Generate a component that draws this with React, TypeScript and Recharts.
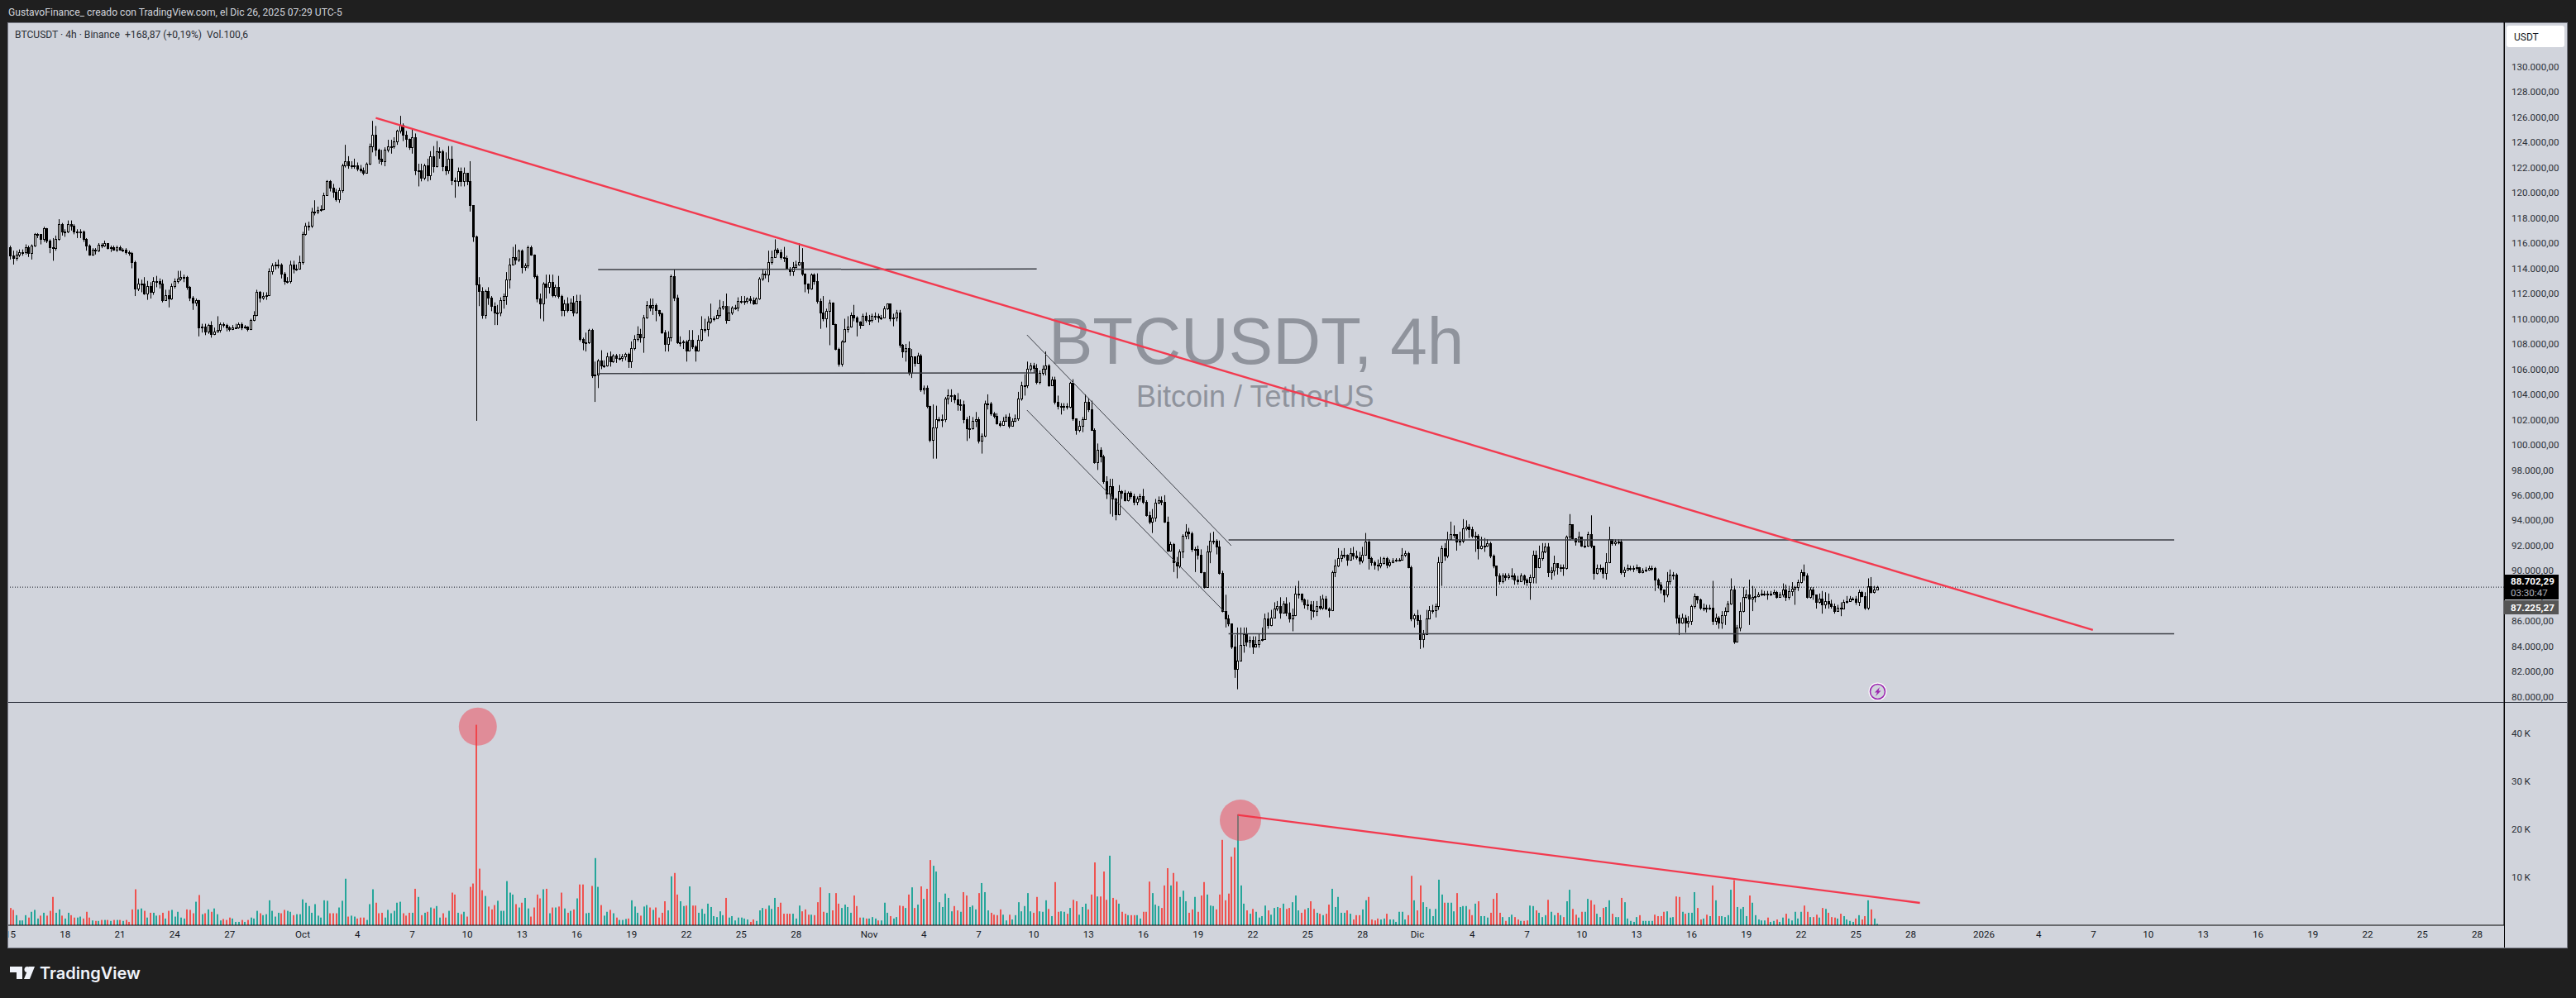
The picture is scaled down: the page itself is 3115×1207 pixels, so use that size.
import { Bar, ComposedChart, ReferenceDot, ReferenceLine, XAxis, YAxis } from 'recharts';

const UI_FONT = 'Roboto, sans-serif';
const WATERMARK_FONT = '"Liberation Sans", Arial, sans-serif';

// 4h candles, in thousands of USDT. each open is the previous close
const firstOpenK = 115.7;
const closesK = [
  115.0,114.8,115.1,115.3,115.3,115.7,115.2,115.8,116.7,116.7,116.3,117.2,116.2,115.7,115.6,116.3,117.5,116.9,116.9,117.5,
  117.4,116.9,116.9,116.9,116.3,115.8,115.1,115.5,115.4,115.9,115.8,116.0,115.6,115.7,115.5,115.7,115.5,115.5,115.3,115.2,
  114.5,112.4,112.8,112.8,112.0,112.6,112.1,113.0,113.0,112.8,111.5,111.9,111.6,112.6,113.0,113.2,113.3,113.3,112.5,111.7,
  111.3,111.5,109.3,109.4,109.0,109.5,108.8,109.0,109.1,109.6,109.5,109.3,109.2,109.3,109.3,109.6,109.3,109.4,109.2,109.9,
  110.3,112.1,111.7,111.8,111.9,113.8,114.2,114.3,114.3,113.6,113.0,113.0,114.3,114.0,114.0,114.5,116.7,117.4,117.4,118.5,
  118.5,118.6,118.7,119.8,120.9,120.4,120.1,119.5,120.2,122.2,122.5,122.2,122.2,122.2,121.9,121.8,121.6,122.3,123.7,124.6,
  123.4,122.7,122.5,123.4,123.7,123.7,124.1,124.9,125.4,124.6,124.3,123.6,124.4,121.8,121.8,121.2,122.2,121.4,122.9,122.1,
  123.3,123.3,122.1,121.8,122.7,121.0,120.9,121.7,120.9,121.6,120.9,119.0,116.5,112.7,112.2,110.3,112.2,111.7,111.0,110.5,
  110.5,111.5,111.8,113.1,114.3,114.9,114.7,115.4,114.1,114.2,115.7,115.1,113.4,111.6,111.2,112.8,112.5,112.9,111.9,112.5,
  111.8,110.7,111.2,110.7,111.3,110.5,111.4,108.4,108.1,108.1,109.1,105.5,105.6,106.7,106.3,106.3,107.0,106.6,107.1,106.9,
  106.9,107.0,107.2,106.6,107.7,108.4,108.8,108.5,110.1,111.1,110.9,111.1,110.7,110.4,108.9,108.0,108.5,113.4,111.7,108.1,
  108.1,108.2,107.5,108.3,107.8,107.5,108.3,109.2,109.2,109.8,110.0,110.0,110.3,110.9,111.0,109.9,110.5,110.9,110.9,111.4,
  111.4,111.4,111.6,111.5,111.2,111.6,113.2,113.6,113.5,114.5,114.9,115.5,115.3,114.9,114.8,114.0,113.8,114.1,114.3,114.5,
  113.6,112.8,112.4,113.5,113.0,111.4,110.5,110.0,110.6,111.3,109.6,107.6,106.4,108.2,109.2,109.4,110.3,110.1,109.8,109.5,
  110.2,109.9,109.9,110.2,110.2,110.1,110.1,110.8,111.2,110.0,110.1,110.5,107.9,107.4,107.7,105.7,107.0,106.5,107.1,104.4,
  104.5,103.1,100.4,101.4,102.0,102.0,102.0,103.7,103.9,103.9,103.6,103.2,103.2,102.0,101.3,101.3,101.9,102.0,100.3,100.7,
  103.3,103.3,102.5,102.3,101.7,101.6,101.9,102.2,101.5,101.9,102.1,103.7,104.7,104.7,106.0,106.3,106.1,105.0,105.7,106.0,
  106.3,104.7,105.2,103.4,103.1,103.1,103.1,103.0,104.9,102.1,101.2,101.5,102.0,103.4,102.8,101.2,98.6,99.6,99.1,97.1,
  96.1,96.7,95.7,94.5,96.3,96.2,95.6,96.2,95.9,95.5,95.7,95.9,95.5,94.4,93.9,94.2,95.4,95.6,95.5,93.9,
  91.6,92.1,90.7,90.4,91.5,92.8,93.1,93.0,91.7,91.7,91.3,89.9,88.7,91.5,92.4,92.4,91.9,89.8,86.8,86.2,
  85.8,84.0,82.2,82.9,84.1,85.0,84.4,84.5,84.0,84.2,84.5,84.6,86.2,85.7,86.3,87.0,87.2,86.7,87.4,86.7,
  86.2,86.5,88.2,88.2,87.7,87.3,87.3,86.9,86.8,87.2,87.1,87.8,87.0,86.9,89.9,90.4,91.0,91.3,91.3,90.9,
  91.4,91.2,91.1,90.8,91.3,92.3,91.0,90.7,90.5,90.4,90.6,91.0,90.5,90.7,90.8,90.9,90.9,91.3,91.4,90.3,
  86.2,86.5,86.1,84.6,85.0,86.2,86.9,86.9,87.2,90.7,91.8,91.2,92.5,92.9,92.9,92.3,92.4,93.4,93.5,93.3,
  92.8,92.8,91.8,92.0,92.0,92.2,91.2,90.4,89.6,89.2,89.6,89.5,89.6,89.6,89.3,89.2,89.6,89.3,89.1,89.5,
  91.3,90.3,91.0,91.5,91.9,89.9,90.0,90.6,90.3,90.3,90.2,92.7,93.7,92.6,92.3,92.7,92.0,92.0,92.9,92.0,
  89.8,90.2,90.2,89.8,90.7,92.5,92.2,92.3,92.3,89.9,90.1,90.2,90.2,90.2,90.3,89.9,90.0,90.1,90.2,90.2,
  89.3,88.9,88.5,88.1,89.2,89.7,89.7,86.3,85.9,86.3,85.9,86.0,87.2,88.0,87.7,87.1,87.1,87.0,87.1,86.0,
  86.3,85.9,86.5,86.8,87.4,88.5,84.4,85.5,86.8,87.9,88.1,87.8,87.9,88.0,88.1,88.2,88.2,88.1,88.2,88.3,
  87.9,88.1,88.5,87.9,88.4,88.6,88.7,89.1,89.9,89.6,87.9,88.5,88.1,87.5,87.8,87.3,87.6,87.4,87.2,86.8,
  87.1,87.0,87.5,87.6,87.8,87.8,87.5,88.3,88.0,87.1,88.8,88.3,88.5,88.7,
];
const highsK = [
  115.8,115.4,115.4,115.5,115.5,115.9,115.8,115.9,116.8,116.8,116.7,117.3,117.2,116.3,116.4,116.6,117.9,117.6,117.1,117.8,
  117.8,117.5,117.1,117.1,117.0,116.4,115.9,115.6,115.6,116.0,116.0,116.2,116.0,115.8,115.8,115.8,115.8,115.6,115.6,115.4,
  115.3,114.6,113.2,113.1,113.3,113.0,112.9,113.3,113.4,113.2,113.1,112.3,112.3,112.8,113.2,113.8,113.8,113.5,113.4,112.6,
  111.8,111.6,111.5,109.6,109.6,109.6,109.8,109.3,110.2,109.7,109.7,109.6,109.4,109.5,109.6,109.7,109.7,109.5,109.4,110.0,
  110.6,112.3,112.2,112.1,112.1,114.0,114.4,114.5,114.7,114.4,113.7,113.3,114.6,114.6,114.3,115.0,116.9,117.6,117.7,118.8,
  119.4,118.9,119.0,120.0,121.0,121.0,120.7,120.3,120.4,122.3,123.8,122.9,122.5,122.7,122.4,122.2,122.0,122.4,123.9,125.7,
  125.3,123.5,123.4,123.6,124.2,124.2,124.4,125.0,126.1,125.5,124.9,124.3,125.1,124.7,122.3,122.3,122.3,122.7,123.3,123.7,
  124.1,123.6,123.4,123.2,123.7,123.7,121.2,122.0,122.0,122.0,121.4,122.5,119.0,116.6,113.3,112.5,112.3,112.5,111.8,111.3,
  111.1,111.7,112.0,113.7,114.8,115.7,115.9,115.5,115.5,114.4,115.8,115.8,115.1,113.5,112.0,112.9,113.5,113.5,113.5,112.7,
  113.4,111.9,111.5,111.7,111.6,111.8,111.9,111.9,108.5,108.9,109.2,109.2,106.6,106.8,107.5,106.7,107.3,107.4,107.2,107.2,
  107.2,107.2,107.3,107.3,108.2,108.7,109.4,109.2,110.3,111.4,111.6,111.6,111.2,110.7,110.5,109.1,109.0,113.5,113.9,111.9,
  108.6,108.3,108.3,109.1,109.1,107.9,108.7,110.2,110.0,110.2,111.2,110.2,110.7,111.5,111.4,112.0,111.0,111.0,111.1,111.7,
  111.8,111.8,111.7,111.8,111.7,111.7,113.3,113.9,113.8,115.4,115.4,116.3,115.6,115.5,115.7,115.0,114.1,114.5,114.6,116.0,
  115.6,113.6,112.8,113.6,113.6,113.6,111.6,111.8,110.8,111.5,111.3,109.6,107.7,108.3,110.0,110.2,110.5,111.1,110.2,109.8,
  110.4,110.5,110.3,110.4,110.5,110.4,110.3,111.0,111.2,111.2,110.4,110.7,110.7,108.0,108.0,108.2,107.6,107.0,107.3,107.2,
  104.7,104.7,103.1,103.2,103.1,102.2,102.4,103.8,104.4,104.4,104.0,104.1,103.6,103.5,102.2,102.3,102.2,102.6,102.2,100.9,
  103.5,104.0,103.4,102.6,102.5,101.9,102.2,102.4,102.5,102.1,102.4,104.2,105.0,105.6,106.6,106.5,106.5,106.4,105.9,106.3,
  107.4,106.4,105.4,105.4,103.9,103.3,103.3,103.3,105.0,105.2,102.1,101.9,102.2,104.0,103.7,103.5,101.3,100.1,99.8,99.2,
  97.5,97.3,97.3,95.8,96.8,96.4,96.4,96.3,96.3,96.1,95.9,96.1,96.5,95.6,94.7,94.9,95.7,95.9,95.9,96.0,
  94.3,92.3,92.2,91.1,91.7,92.9,93.7,93.4,93.1,91.9,92.0,91.7,89.9,92.0,93.0,93.1,92.5,92.4,90.0,88.1,
  86.5,85.6,84.9,85.5,85.5,85.5,85.5,84.8,84.8,84.8,85.0,85.5,86.6,86.7,86.9,87.5,87.6,87.9,87.6,87.9,
  87.5,87.0,88.8,89.2,88.2,87.8,87.7,87.6,87.6,87.6,88.0,88.1,88.0,87.1,90.0,90.9,91.8,91.6,91.8,91.3,
  91.8,91.9,91.6,91.5,91.9,93.0,92.5,91.1,90.8,90.9,91.1,91.1,91.1,90.9,91.0,91.0,91.0,91.8,91.6,91.5,
  90.4,86.6,86.9,86.5,85.3,86.9,87.2,87.3,87.4,91.1,92.0,92.2,93.1,93.9,93.6,92.9,93.1,94.1,94.0,93.7,
  93.5,93.1,92.9,92.7,92.6,92.5,92.3,91.3,90.4,89.8,89.8,89.8,89.8,90.2,89.8,89.6,89.8,89.7,89.4,89.7,
  91.6,91.6,92.0,92.2,92.2,92.2,90.3,91.2,90.6,90.5,90.5,92.8,94.5,92.8,92.4,93.1,92.7,92.4,93.1,94.4,
  92.0,90.5,90.5,90.3,91.4,93.5,92.5,92.5,92.5,92.5,90.3,90.5,90.4,90.4,90.5,90.3,90.2,90.3,90.4,90.4,
  90.3,89.4,89.1,88.5,89.9,90.1,89.9,89.8,86.5,86.6,86.5,86.4,87.3,88.2,88.0,87.8,87.4,87.3,87.3,89.2,
  86.6,86.4,86.8,87.1,87.6,89.4,88.8,85.7,87.5,88.7,88.5,89.3,88.8,88.6,88.3,88.5,88.4,88.4,88.4,88.5,
  88.4,88.3,89.0,88.9,88.8,89.1,88.8,89.3,90.1,90.5,89.8,88.7,88.7,88.1,88.2,88.4,88.3,88.2,87.7,87.4,
  87.3,87.5,87.7,88.0,88.0,87.9,88.0,88.5,88.4,88.3,89.4,89.5,88.8,88.8,
];
const lowsK = [
  114.7,114.3,114.6,114.9,115.0,115.1,114.9,114.7,115.7,116.4,115.9,116.1,116.0,115.2,114.6,115.4,116.2,116.6,116.5,116.8,
  117.0,116.7,116.4,116.4,116.1,115.4,115.0,115.0,115.1,115.3,115.6,115.7,115.5,115.3,115.4,115.3,115.4,115.3,115.1,115.0,
  114.0,111.8,112.2,112.1,111.9,111.5,111.6,111.9,112.5,112.4,111.3,111.5,110.9,111.5,112.4,112.8,113.0,112.9,112.3,111.4,
  110.7,111.0,108.6,108.9,108.7,108.8,108.5,108.7,108.9,108.9,109.3,109.0,109.0,109.1,109.2,109.2,109.1,109.2,109.0,109.1,
  109.8,110.2,111.3,111.5,111.5,111.8,113.5,113.9,114.0,113.2,112.7,112.8,112.8,113.6,113.8,113.9,114.3,116.6,117.0,117.2,
  118.2,118.3,118.5,118.6,119.8,120.1,119.6,119.3,119.2,120.0,122.0,121.9,121.9,121.9,121.7,121.6,121.4,121.7,122.2,123.2,
  122.9,122.3,122.2,122.1,123.2,123.1,123.5,123.8,124.7,124.1,123.6,123.4,123.1,121.4,120.5,120.9,121.0,120.9,121.0,121.6,
  122.0,122.7,121.7,121.4,121.5,120.6,119.6,120.5,120.5,120.5,120.6,118.5,116.1,101.9,111.0,110.0,110.0,111.1,110.6,109.5,
  109.5,110.2,110.8,111.1,112.4,114.3,114.3,114.5,113.6,113.8,114.0,115.0,113.2,111.3,110.0,109.8,111.6,112.0,111.7,111.7,
  111.6,110.2,110.2,110.5,110.8,110.2,110.4,108.2,107.5,107.4,108.0,105.3,103.4,104.5,106.0,106.1,106.2,106.2,106.5,106.5,
  106.7,106.6,106.7,106.1,106.1,107.5,108.2,108.1,107.3,110.0,110.6,110.3,109.8,110.2,108.8,107.4,107.4,108.2,111.4,108.0,
  107.8,107.6,106.6,107.5,107.6,106.6,107.4,108.2,108.9,108.6,109.6,109.8,110.1,110.1,110.7,109.6,109.9,110.3,110.7,110.6,
  111.2,111.1,111.2,111.2,111.1,111.2,111.5,113.0,113.2,112.9,114.3,115.3,115.1,114.7,114.5,113.9,113.4,113.4,114.0,114.2,
  113.4,112.1,112.0,112.3,112.7,111.2,109.2,109.8,109.3,107.9,109.5,107.5,106.2,106.2,108.1,108.9,109.3,109.8,108.6,109.2,
  109.5,109.7,109.5,109.7,109.9,109.7,109.9,110.1,110.7,109.8,109.4,109.8,107.7,106.9,106.6,105.5,105.3,106.2,106.5,104.2,
  104.0,102.9,100.2,98.9,98.9,101.8,101.4,101.8,103.2,103.4,103.3,102.7,102.7,101.7,100.3,100.5,101.2,101.4,100.1,99.3,
  100.6,102.8,102.3,102.1,101.6,101.4,101.5,101.9,101.3,101.5,101.8,101.9,103.5,103.9,104.5,105.8,105.7,104.8,104.8,105.5,
  105.5,104.6,104.9,103.2,102.8,102.4,102.7,102.8,102.9,101.9,100.8,101.0,101.0,102.2,102.6,101.1,98.5,98.0,98.6,96.9,
  95.7,94.5,94.3,94.0,94.4,95.7,95.5,95.5,95.7,95.2,95.2,95.5,95.3,94.3,93.7,93.0,93.9,95.3,95.2,93.8,
  91.5,91.6,89.9,89.4,90.2,91.0,92.5,92.5,91.5,89.9,90.9,89.8,88.6,88.7,90.6,92.1,91.3,89.7,86.7,85.5,
  85.6,83.8,81.5,80.6,82.9,83.5,84.0,83.9,83.4,84.0,83.9,84.4,84.8,85.4,85.6,86.7,86.8,86.2,86.9,86.4,
  85.9,85.2,86.4,87.8,87.5,87.0,86.9,86.1,86.3,86.4,86.9,86.9,86.9,86.3,86.8,89.5,90.3,90.7,91.0,90.4,
  90.8,90.9,90.9,90.5,90.6,91.2,90.1,90.4,90.1,90.0,90.2,90.5,90.2,90.3,90.6,90.7,90.8,90.9,91.1,90.2,
  86.0,85.5,85.7,83.8,83.9,84.9,86.3,86.6,86.3,86.9,88.8,90.8,91.0,92.5,92.6,91.6,92.0,92.2,93.2,92.6,
  92.6,91.5,90.9,91.7,91.5,91.9,91.0,90.2,88.0,88.9,89.0,89.2,89.3,89.3,88.9,88.9,89.3,88.9,88.8,87.7,
  89.0,89.0,90.2,90.8,91.4,89.5,89.3,89.6,89.7,89.9,89.6,90.1,92.4,92.5,92.0,92.3,91.9,91.8,91.9,91.8,
  89.3,89.7,89.9,89.4,89.3,90.6,92.0,92.0,92.1,89.7,89.5,90.0,90.0,89.9,90.0,89.8,89.8,89.9,90.0,90.0,
  88.4,88.6,88.2,87.5,87.9,88.9,89.3,85.8,84.9,85.8,85.1,85.5,85.7,87.0,87.4,86.9,86.8,86.7,86.9,85.7,
  85.7,85.4,85.4,85.7,86.7,87.3,84.2,84.9,85.2,86.7,87.8,85.7,86.8,87.5,87.9,88.0,88.0,87.7,88.0,88.1,
  87.8,87.9,87.9,87.6,87.7,88.0,87.3,88.4,89.0,89.2,87.8,87.8,87.7,87.0,87.4,86.6,87.0,87.0,87.0,86.6,
  86.8,86.4,87.2,87.4,87.6,87.7,87.3,87.2,87.9,86.9,86.9,88.2,88.2,88.5,
];
const volumesK = [
  3.6,3.2,2.1,1.0,1.0,2.1,1.6,2.8,3.2,1.4,2.0,2.6,2.0,3.0,5.9,2.6,3.3,2.0,1.4,2.6,
  2.1,1.6,1.6,1.8,1.4,2.8,1.6,1.0,0.9,0.9,1.1,1.1,1.1,0.9,1.1,1.1,1.1,0.9,1.1,0.7,
  3.3,7.5,3.3,3.5,3.0,1.6,2.6,2.6,2.0,2.1,2.6,1.4,3.0,3.2,1.8,2.8,1.6,1.4,3.3,3.2,
  2.5,4.9,6.3,2.3,2.5,3.3,2.8,3.5,2.3,1.0,1.3,1.1,1.6,1.4,0.7,0.7,1.1,0.7,1.1,1.6,
  1.4,3.0,2.5,2.1,2.3,5.2,3.0,1.8,2.6,2.5,3.2,3.0,2.8,2.1,2.3,2.3,5.4,4.7,4.0,2.6,
  4.4,2.0,1.6,5.2,5.1,2.5,2.5,2.5,3.7,5.1,9.7,1.8,2.0,1.8,1.4,1.6,1.6,1.1,4.4,7.5,
  4.7,2.5,2.6,1.6,3.2,2.5,3.0,4.7,4.9,2.5,2.0,2.6,2.6,7.6,5.9,2.1,2.6,2.8,3.7,3.5,
  4.0,1.6,2.5,1.6,3.0,6.8,6.4,2.6,2.3,2.8,1.8,8.0,8.7,41.8,11.8,7.3,6.1,3.9,3.3,4.2,
  5.1,3.0,3.0,9.2,6.8,6.4,4.4,3.7,4.7,5.7,3.5,1.8,3.7,6.4,5.6,7.5,7.6,2.5,3.7,3.7,
  3.9,6.8,3.5,2.6,3.0,3.3,5.6,8.5,8.5,2.5,2.6,8.2,14.0,8.0,4.2,2.0,2.8,3.2,2.5,1.6,
  1.1,1.1,1.3,1.4,5.2,3.9,2.6,2.0,3.9,4.2,3.7,3.2,3.7,1.6,2.6,5.0,3.1,10.2,10.9,6.4,
  5.0,4.0,4.1,8.1,4.1,4.1,2.6,3.4,2.4,4.5,3.8,1.9,1.7,2.9,2.1,5.7,1.6,1.9,1.0,1.6,
  1.6,1.4,1.2,0.7,1.2,0.9,3.1,3.6,3.4,4.1,3.4,5.7,
  3.8,4.7,2.4,2.4,2.4,2.4,1.4,4.1,2.9,3.3,2.2,2.2,2.1,4.8,7.9,2.8,2.6,6.7,3.1,6.7,
  4.5,3.6,4.3,3.8,2.6,6.2,4.0,1.6,1.6,1.4,1.4,1.7,1.4,1.0,1.0,4.7,2.6,1.9,1.4,1.7,
  4.1,4.0,3.6,6.4,7.9,3.6,4.3,8.1,5.5,7.6,13.6,12.4,11.2,4.8,3.8,6.6,5.7,2.9,4.0,3.1,
  2.8,6.9,6.2,3.8,4.1,3.3,6.7,8.8,6.9,3.1,2.6,2.2,2.1,3.3,2.2,1.0,2.2,1.2,2.1,4.8,
  2.9,4.0,6.7,2.9,2.6,5.9,2.9,2.8,5.2,3.4,1.9,9.0,2.8,2.9,2.8,2.4,3.6,5.3,5.0,2.2,
  3.8,4.5,3.3,6.4,13.1,6.0,6.0,11.2,5.3,14.5,5.7,5.3,4.5,2.8,2.4,2.1,2.1,2.1,2.1,1.4,
  2.8,2.8,9.1,6.7,4.3,4.0,3.6,8.3,11.9,8.3,10.9,9.1,5.9,7.2,5.0,2.6,3.3,5.9,2.8,6.2,
  9.0,6.4,4.1,4.0,3.3,6.4,17.8,5.2,6.6,14.3,16.2,23.1,8.3,4.5,3.1,2.4,3.4,2.8,1.6,1.9,
  4.1,3.1,2.2,3.6,3.8,3.6,4.5,3.4,3.6,4.8,6.2,
  3.1,2.6,3.3,3.6,5.0,3.4,2.6,2.4,2.1,2.4,4.3,7.6,3.8,5.9,2.6,2.6,3.1,2.4,1.2,2.1,
  2.1,3.3,5.2,5.9,1.2,1.0,1.4,1.2,1.4,2.4,1.2,1.2,0.7,2.8,2.8,1.2,2.1,10.3,5.2,3.1,
  8.3,4.8,3.8,3.4,1.9,3.4,9.5,6.4,4.7,4.7,4.7,2.9,6.7,3.8,4.0,4.0,3.3,2.1,4.5,5.0,
  1.9,1.9,1.6,2.6,5.5,6.7,2.6,1.7,0.9,1.7,2.2,1.7,1.2,0.9,0.9,1.0,4.1,4.0,3.1,2.6,
  1.7,2.1,5.3,2.8,2.1,2.6,2.1,1.7,5.0,7.4,3.4,2.2,1.6,2.8,2.8,5.5,5.2,4.3,2.4,1.7,
  3.6,3.8,5.2,2.4,1.7,1.7,5.7,4.8,1.4,0.9,0.7,1.7,2.1,0.9,0.9,0.9,0.9,2.2,1.9,1.9,
  2.8,2.9,1.6,1.7,6.0,5.9,2.8,2.4,2.6,2.6,6.9,3.6,1.2,1.4,2.2,1.9,8.3,5.2,1.9,1.9,
  1.7,2.1,7.4,9.4,3.8,3.4,3.8,1.9,6.2,4.7,2.1,1.2,1.0,1.0,1.6,0.7,0.9,1.2,0.7,1.6,
  2.4,1.4,1.0,2.8,1.4,2.8,4.1,2.8,1.7,1.7,2.2,1.6,3.6,3.4,2.6,1.7,1.6,1.4,2.4,1.9,
  1.2,0.9,0.7,1.4,2.1,1.2,1.9,5.2,3.3,1.4,0.3,
];

// time axis, position given in 4h bars from Sep 15
const timeTickBars = [
  0, 18, 36, 54, 72, 96, 114, 132, 150, 168, 186, 204, 222, 240, 258, 282, 300, 318, 336, 354, 372, 390, 408, 426, 444,
  462, 480, 498, 516, 534, 552, 570, 588, 606, 624, 648, 666, 684, 702, 720, 738, 756, 774, 792, 810,
];
const timeTickLabels = [
  '15', '18', '21', '24', '27', 'Oct', '4', '7', '10', '13', '16', '19', '22', '25', '28', 'Nov', '4', '7', '10', '13', '16', '19', '22', '25', '28',
  'Dic', '4', '7', '10', '13', '16', '19', '22', '25', '28', '2026', '4', '7', '10', '13', '16', '19', '22', '25', '28',
];
const priceTicks = [
  130000, 128000, 126000, 124000, 122000, 120000, 118000, 116000, 114000, 112000, 110000, 108000, 106000, 104000, 102000,
  100000, 98000, 96000, 94000, 92000, 90000, 88000, 86000, 84000, 82000, 80000,
];
const volumeTicks = [10000, 20000, 30000, 40000];

const lastPrice = 88702.29;

// drawings on the chart: [bar, value] at both ends
const mainTrend = [[120, 125930], [683.8, 85300]];
const volumeTrend = [[403, 23000], [627, 4660]];
const levelLines = [
  [[193, 113900], [337, 113950]],
  [[193, 105650], [337, 105700]],
  [[400, 92450], [710.5, 92450]],
  [[400, 85000], [710.5, 85000]],
];
const channelLines = [
  [[333.8, 108720], [400.9, 91990]],
  [[333.8, 102750], [398.7, 86740]],
];
const volumeMarkers = [[153.5, 41400, 23], [403.9, 21900, 25]];

const candles = closesK.map((close, i) => {
  const open = i === 0 ? firstOpenK : closesK[i - 1];
  return {
    bar: i,
    open: open * 1000,
    close: close * 1000,
    range: [lowsK[i] * 1000, highsK[i] * 1000],
    volume: (volumesK[i] ?? 0) * 1000,
    up: close >= open,
  };
});

const xDomain = [-1.49, 818.8];
const priceDomain = [79590, 133520];
const volumeDomain = [0, 46550];

const formatPrice = (v: number) => v.toLocaleString('de-DE', { minimumFractionDigits: 2 });
const formatVolume = (v: number) => `${v / 1000}\u2009K`;
const formatTime = (v: number) => timeTickLabels[timeTickBars.indexOf(v)];

const toSegment = (line: number[][]) => line.map(([x, y]) => ({ x, y }));

function Candle(props: any) {
  const { x, y, width, height, payload } = props;
  const [low, high] = payload.range;
  const pxPerUnit = height / (high - low);
  const yOf = (value: number) => y + (high - value) * pxPerUnit;
  const cx = Math.round(x + width / 2) + 0.5;
  const top = Math.round(yOf(Math.max(payload.open, payload.close)));
  const bottom = Math.round(yOf(Math.min(payload.open, payload.close)));
  const bodyHeight = Math.max(bottom - top, 1);
  return (
    <g>
      <line x1={cx} x2={cx} y1={y} y2={y + height} stroke="#000" strokeWidth={1} />
      <rect
        x={cx - 1}
        y={top + 0.5}
        width={2}
        height={bodyHeight}
        fill={payload.up ? '#fff' : '#000'}
        stroke="#000"
        strokeWidth={1}
      />
    </g>
  );
}

function VolumeBar(props: any) {
  const { x, y, width, height, payload } = props;
  const left = Math.round(x + width / 2 - 1);
  return <rect x={left} y={y} width={2} height={height} fill={payload.up ? '#26a69a' : '#ef5350'} />;
}

export default function App() {
  return (
    <div style={{ position: 'absolute', left: 0, top: 0, width: 3115, height: 1207, background: '#1f1f1f', overflow: 'hidden' }}>
      <svg width={3115} height={1207} style={{ position: 'absolute', left: 0, top: 0 }}>
        <rect x={9.5} y={27.5} width={3095} height={1119} fill="#d1d4dc" stroke="#787b86" strokeWidth={1} />
        <text x={1268} y={440} fontFamily={WATERMARK_FONT} fontSize={80} fill="#8f939c">BTCUSDT, 4h</text>
        <text x={1374} y={492} fontFamily={WATERMARK_FONT} fontSize={36} fill="#8f939c">Bitcoin / TetherUS</text>
      </svg>

      <div style={{ position: 'absolute', left: 7, top: 27 }}>
        <ComposedChart width={3097} height={822} data={candles} margin={{ top: 0, right: 0, bottom: 0, left: 0 }}>
          <XAxis type="number" dataKey="bar" domain={xDomain} allowDataOverflow hide />
          <YAxis
            orientation="right"
            width={76}
            type="number"
            domain={priceDomain}
            ticks={priceTicks}
            interval={0}
            allowDataOverflow
            tickFormatter={formatPrice}
            tickLine={false}
            tickSize={0}
            tickMargin={9}
            axisLine={{ stroke: '#000' }}
            tick={{ fill: '#2b2f36', fontSize: 11.6, fontFamily: UI_FONT, textAnchor: 'start' }}
          />
          <ReferenceLine y={lastPrice} stroke="#131722" strokeWidth={1} strokeDasharray="1 2" />
          <Bar dataKey="range" barSize={3} shape={<Candle />} isAnimationActive={false} />
          {levelLines.map((line, i) => (
            <ReferenceLine key={i} segment={toSegment(line)} stroke="#3c3f46" strokeWidth={1.5} />
          ))}
          {channelLines.map((line, i) => (
            <ReferenceLine key={i} segment={toSegment(line)} stroke="#3c3f46" strokeWidth={1} />
          ))}
          <ReferenceLine segment={toSegment(mainTrend)} stroke="#f23a4f" strokeWidth={2.4} />
        </ComposedChart>
      </div>

      <div style={{ position: 'absolute', left: 7, top: 849 }}>
        <ComposedChart width={3097} height={297} data={candles} margin={{ top: 0, right: 0, bottom: 0, left: 0 }}>
          <XAxis
            type="number"
            dataKey="bar"
            domain={xDomain}
            allowDataOverflow
            ticks={timeTickBars}
            interval={0}
            tickFormatter={formatTime}
            height={27}
            tickLine={false}
            tickSize={0}
            tickMargin={7}
            axisLine={{ stroke: '#000' }}
            tick={{ fill: '#131722', fontSize: 11.6, fontFamily: UI_FONT }}
          />
          <YAxis
            orientation="right"
            width={76}
            type="number"
            domain={volumeDomain}
            ticks={volumeTicks}
            interval={0}
            allowDataOverflow
            tickFormatter={formatVolume}
            tickLine={false}
            tickSize={0}
            tickMargin={9}
            axisLine={{ stroke: '#000' }}
            tick={{ fill: '#2b2f36', fontSize: 11.6, fontFamily: UI_FONT, textAnchor: 'start' }}
          />
          {volumeMarkers.map(([x, y, r], i) => (
            <ReferenceDot key={i} x={x} y={y} r={r} fill="rgba(242,54,69,0.45)" stroke="none" />
          ))}
          <Bar dataKey="volume" barSize={2} shape={<VolumeBar />} isAnimationActive={false} />
          <ReferenceLine segment={toSegment(volumeTrend)} stroke="#f23a4f" strokeWidth={2.4} />
        </ComposedChart>
      </div>

      <svg width={3115} height={1207} style={{ position: 'absolute', left: 0, top: 0, pointerEvents: 'none' }}>
        <rect x={0} y={27} width={9} height={1120} fill="#1f1f1f" />
        <line x1={9.5} x2={9.5} y1={27} y2={1147} stroke="#787b86" />
        <line x1={10} x2={3104} y1={849.5} y2={849.5} stroke="#2a2e39" />
        <line x1={3028.5} x2={3028.5} y1={27} y2={1146} stroke="#000" />

        <text x={10} y={19} fontFamily={UI_FONT} fontSize={12.1} fill="#d1d4dc">
          GustavoFinance_ creado con TradingView.com, el Dic 26, 2025 07:29 UTC-5
        </text>
        <text x={18} y={46} fontFamily={UI_FONT} fontSize={12.1} fill="#2b2f36" xmlSpace="preserve">
          BTCUSDT · 4h · Binance  +168,87 (+0,19%)  Vol.100,6
        </text>

        <rect x={3031} y={31} width={70} height={26} rx={3} fill="#fff" />
        <text x={3040} y={48.5} fontFamily={UI_FONT} fontSize={12} fill="#131722">USDT</text>

        <rect x={3028} y={695} width={66} height={30} fill="#000" />
        <text x={3036} y={707} fontFamily={UI_FONT} fontSize={11.6} fontWeight={700} fill="#fff">88.702,29</text>
        <text x={3036} y={721} fontFamily={UI_FONT} fontSize={11.6} fill="#b2b5be">03:30:47</text>
        <rect x={3028} y={726} width={66} height={17} fill="#555" />
        <text x={3036} y={738.5} fontFamily={UI_FONT} fontSize={11.6} fontWeight={700} fill="#fff">87.225,27</text>

        <circle cx={2270.5} cy={836.5} r={11} fill="#fff" />
        <circle cx={2270.5} cy={836.5} r={9} fill="#d1d4dc" stroke="#9c27b0" strokeWidth={1.6} />
        <path d="M2273 831 L2267 837.5 L2270 837.5 L2268 842 L2274.5 835.5 L2271.5 835.5 Z" fill="#9c27b0" />

        <path d="M12 1169 H27 V1184 H20 V1176 H12 Z" fill="#f0f3fa" />
        <circle cx={33} cy={1172.5} r={3.5} fill="#f0f3fa" />
        <path d="M35 1169 H42 L36 1184 H29 Z" fill="#f0f3fa" />
        <text x={48} y={1184} fontFamily="Inter, sans-serif" fontSize={20} fontWeight={600} fill="#f0f3fa">TradingView</text>
      </svg>
    </div>
  );
}
